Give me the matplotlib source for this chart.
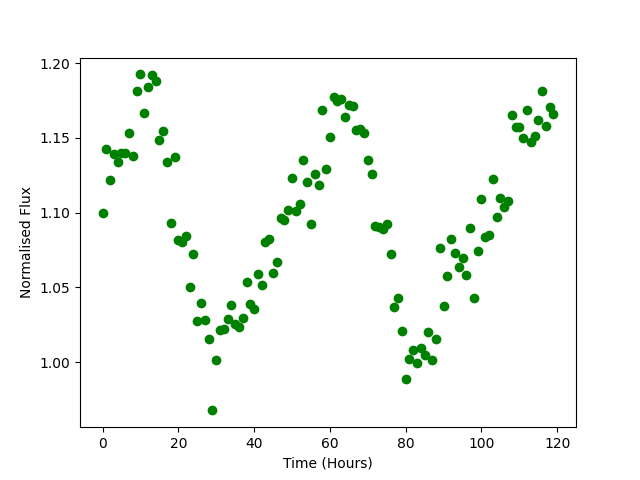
import numpy as np
import matplotlib
matplotlib.use('Agg')
from matplotlib import pyplot as plt

# waktu pengamatan (jam)
time_hours = np.arange(120)

# fluks ternormalisasi
flux = [
    1.0995, 1.1423, 1.1215, 1.1389, 1.1340, 1.1400, 1.1396, 1.1530, 1.1380, 1.1810,
    1.1924, 1.1664, 1.1837, 1.1920, 1.1878, 1.1483, 1.1543, 1.1336, 1.0928, 1.1369,
    1.0816, 1.0805, 1.0843, 1.0500, 1.0720, 1.0274, 1.0392, 1.0279, 1.0152, 0.9677,
    1.0013, 1.0214, 1.0219, 1.0288, 1.0381, 1.0252, 1.0232, 1.0292, 1.0533, 1.0390,
    1.0355, 1.0589, 1.0515, 1.0805, 1.0820, 1.0593, 1.0667, 1.0965, 1.0948, 1.1017,
    1.1229, 1.1012, 1.1055, 1.1349, 1.1202, 1.0921, 1.1258, 1.1184, 1.1686, 1.1289,
    1.1503, 1.1775, 1.1748, 1.1759, 1.1639, 1.1719, 1.1712, 1.1554, 1.1559, 1.1530,
    1.1349, 1.1255, 1.0907, 1.0901, 1.0892, 1.0921, 1.0720, 1.0366, 1.0426, 1.0207,
    0.9886, 1.0018, 1.0080, 0.9991, 1.0091, 1.0047, 1.0203, 1.0013, 1.0154, 1.0761,
    1.0375, 1.0575, 1.0823, 1.0727, 1.0633, 1.0694, 1.0580, 1.0894, 1.0426, 1.0740,
    1.1088, 1.0839, 1.0847, 1.1222, 1.0968, 1.1095, 1.1039, 1.1077, 1.1650, 1.1572,
    1.1570, 1.1496, 1.1684, 1.1470, 1.1512, 1.1619, 1.1813, 1.1579, 1.1706, 1.1657,
]

plt.figure(figsize=(6.4, 4.8), dpi=100)
plt.plot(time_hours, flux, 'go')
plt.xlabel('Time (Hours)')
plt.ylabel('Normalised Flux')
plt.savefig('out.png')
